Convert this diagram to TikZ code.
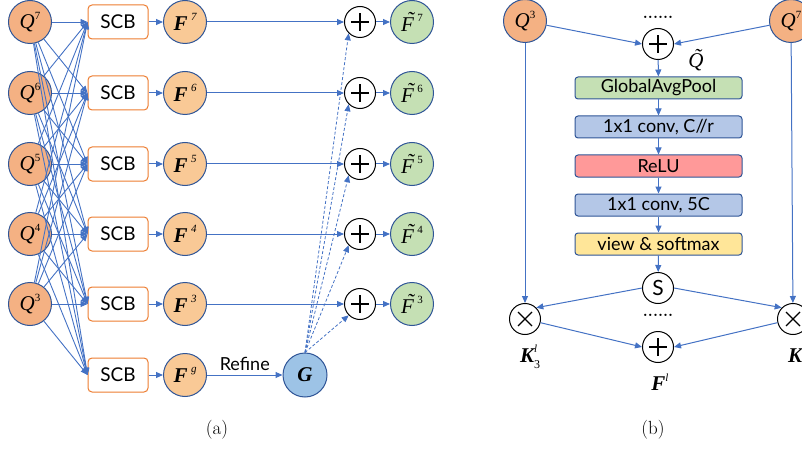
\documentclass[tikz,border=0pt]{standalone}
\usepackage{fontspec}
\newfontfamily\tnr{Liberation Serif}
\newfontfamily\uisans{Lato}
\usetikzlibrary{arrows.meta}
\definecolor{lineblue}{HTML}{4472C4}
\definecolor{rimblue}{HTML}{2F5597}
\definecolor{qorange}{HTML}{F4B183}
\definecolor{forange}{HTML}{F9C996}
\definecolor{scbedge}{HTML}{ED7D31}
\definecolor{fgreen}{HTML}{C5E0B4}
\definecolor{gblue}{HTML}{9DC3E6}
\definecolor{boxblue}{HTML}{B4C7E7}
\definecolor{boxred}{HTML}{FF9999}
\definecolor{boxyellow}{HTML}{FFE699}
% small raised / lowered indices
\newcommand{\upidx}[1]{\raisebox{0.45em}{\fontsize{11}{11}\selectfont #1}}
\newcommand{\dnidx}[1]{\raisebox{-0.3em}{\fontsize{12}{12}\selectfont #1}}
\newcommand{\tld}[1]{\leavevmode\rlap{\hspace{0.27em}\raisebox{0.2em}{\char"02DC}}#1}
\newcommand{\Qlab}[1]{{\tnr\fontsize{21}{21}\selectfont\itshape Q\upidx{\upshape #1}}}
\newcommand{\Flab}[1]{{\tnr\fontsize{21}{21}\selectfont\bfseries\itshape F\,\upidx{\mdseries #1}}}
\newcommand{\Ftlab}[1]{{\tnr\fontsize{21}{21}\selectfont\itshape\tld{F}\,\upidx{\upshape #1}}}
\begin{document}
\begin{tikzpicture}[x=1pt,y=-1pt,
  arr/.style={draw=lineblue,line width=1pt,-{Triangle[length=7pt,width=6pt]}},
  thinarr/.style={draw=lineblue,line width=0.9pt,-{Triangle[length=7pt,width=6pt]}},
  dasharr/.style={draw=lineblue,line width=0.8pt,dashed,dash pattern=on 3pt off 2pt,-{Triangle[length=7pt,width=6pt]}},
  ball/.style={circle,draw=rimblue,line width=1pt,minimum size=43pt,inner sep=0pt},
  qnode/.style={ball,fill=qorange},
  fnode/.style={ball,fill=forange},
  ftnode/.style={ball,fill=fgreen},
  gnode/.style={ball,fill=gblue,minimum size=44pt},
  scbbox/.style={rectangle,rounded corners=4pt,draw=scbedge,line width=1pt,fill=white,
    minimum width=60pt,minimum height=34pt,font=\uisans\fontsize{19}{19}\selectfont},
  opnode/.style={circle,draw=black,line width=1pt,fill=white,minimum size=31pt,inner sep=0pt},
  plusop/.style={opnode,path picture={\draw[line width=1.3pt]
      ([xshift=-9pt]path picture bounding box.center) -- ([xshift=9pt]path picture bounding box.center)
      ([yshift=-9pt]path picture bounding box.center) -- ([yshift=9pt]path picture bounding box.center);}},
  crossop/.style={opnode,path picture={\draw[line width=1.3pt]
      ([shift={(-7pt,-7pt)}]path picture bounding box.center) -- ([shift={(7pt,7pt)}]path picture bounding box.center)
      ([shift={(-7pt,7pt)}]path picture bounding box.center) -- ([shift={(7pt,-7pt)}]path picture bounding box.center);}},
  layer/.style={rectangle,rounded corners=3pt,draw=rimblue,line width=1pt,
    minimum width=167pt,minimum height=22pt,inner sep=0pt,font=\uisans\fontsize{18}{18}\selectfont},
  caption/.style={font=\fontsize{19}{19}\selectfont},
  dots/.style={font=\fontsize{16}{16}\selectfont\bfseries,inner sep=0pt}
]
\useasboundingbox (0,0) rectangle (802,449);

% ---------------- (a) ----------------
\foreach \i/\y in {7/22,6/93,5/164,4/234,3/304}
  \node[qnode] (Q\i) at (30,\y) {\Qlab{\i}};

\foreach \i/\y in {7/22,6/93,5/164,4/234,3/304,g/375}{
  \node[scbbox] (s\i) at (118,\y) {SCB};
  \node[fnode] (f\i) at (185,\y) {\Flab{\i}};
  \draw[arr] (s\i) -- (f\i);
}

\foreach \i/\y in {7/22,6/93,5/164,4/234,3/304}{
  \node[plusop] (p\i) at (360,\y) {};
  \node[ftnode] (t\i) at (412,\y) {\Ftlab{\i}};
  \draw[arr] (f\i) -- (p\i);
  \draw[arr] (p\i) -- (t\i);
}

% every Q feeds every SCB
\foreach \a in {7,6,5,4,3}
  \foreach \b in {7,6,5,4,3,g}
    \draw[thinarr] (Q\a) -- (s\b.west);

\node[gnode] (G) at (305,375) {{\tnr\fontsize{21}{21}\selectfont\bfseries\itshape G}};
\draw[arr] (fg) -- node[above=1pt,font=\uisans\fontsize{18}{18}\selectfont] {Refine} (G);
\foreach \i in {7,6,5,4,3}
  \draw[dasharr] (G.north) -- (p\i.south west);

\node[caption] (capa) at (217,430) {(a)};

% ---------------- (b) ----------------
\node[qnode] (bQ3) at (525,21) {\Qlab{3}};
\node[qnode] (bQ7) at (791,21) {\Qlab{7}};
\node[dots] (topdots) at (658,17) {......};
\node[plusop] (sumq) at (658,44) {};
\node (qt) at (696,60) {{\tnr\fontsize{21}{21}\selectfont\itshape\tld{Q}}};

\node[layer,fill=fgreen] (gap) at (658.5,88) {GlobalAvgPool};
\node[layer,fill=boxblue] (c1) at (658.5,127) {1x1 conv, C//r};
\node[layer,fill=boxred] (relu) at (658.5,166) {ReLU};
\node[layer,fill=boxblue] (c2) at (658.5,205) {1x1 conv, 5C};
\node[layer,fill=boxyellow] (sm) at (658.5,244) {view \& softmax};
\node[opnode,font=\uisans\fontsize{21}{21}\selectfont] (sel) at (658,288) {S};

\node[crossop] (x3) at (525,319) {};
\node[crossop] (x7) at (793,319) {};
\node[dots] (botdots) at (658,315) {......};
\node[plusop] (sumf) at (658,347) {};

\node (k3) at (530,357) {{\tnr\fontsize{21}{21}\selectfont\bfseries\itshape K\rlap{\upidx{\mdseries l}}\dnidx{\upshape\mdseries 3}}};
\node (k7) at (798,357) {{\tnr\fontsize{21}{21}\selectfont\bfseries\itshape K\rlap{\upidx{\mdseries l}}\dnidx{\upshape\mdseries 7}}};
\node (fl) at (660,382) {{\tnr\fontsize{21}{21}\selectfont\bfseries\itshape F\upidx{\mdseries l}}};

\draw[arr] (bQ3) -- (sumq.west);
\draw[arr] (bQ7) -- (sumq.east);
\draw[arr] (sumq) -- (gap);
\draw[arr] (gap) -- (c1);
\draw[arr] (c1) -- (relu);
\draw[arr] (relu) -- (c2);
\draw[arr] (c2) -- (sm);
\draw[arr] (sm) -- (sel);
\draw[arr] (bQ3) -- (x3);
\draw[arr] (bQ7) -- (x7);
\draw[arr] (sel.west) -- (x3.north east);
\draw[arr] (sel.east) -- (x7.north west);
\draw[arr] (x3) -- (sumf.west);
\draw[arr] (x7) -- (sumf.east);

\node[caption] (capb) at (653,430) {(b)};
\end{tikzpicture}
\end{document}
